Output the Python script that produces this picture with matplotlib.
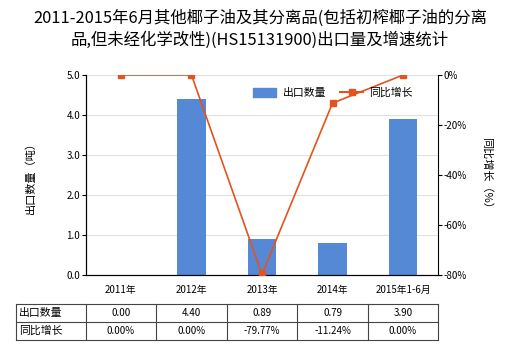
import matplotlib
matplotlib.use("Agg")
import matplotlib.pyplot as plt
from matplotlib.transforms import blended_transform_factory
from matplotlib.lines import Line2D

plt.rcParams['font.family'] = ['Noto Sans CJK SC', 'DejaVu Sans']

categories = ["2011年", "2012年", "2013年", "2014年", "2015年1-6月"]
export_qty = [0.00, 4.40, 0.89, 0.79, 3.90]
growth = [0.00, 0.00, -79.77, -11.24, 0.00]
qty_labels = ["0.00", "4.40", "0.89", "0.79", "3.90"]
growth_labels = ["0.00%", "0.00%", "-79.77%", "-11.24%", "0.00%"]

bar_color = "#5589d6"
line_color = "#e4531e"

fig = plt.figure(figsize=(5.2, 3.5), dpi=100)
ax = fig.add_axes([85.7/520, 1-275/350, (438.3-85.7)/520, 200/350])
x = list(range(len(categories)))
ax.bar(x, export_qty, width=0.4, color=bar_color, zorder=2, label="出口数量")
ax.set_xlim(-0.5, len(categories)-0.5)
ax.set_ylim(0, 5)
ax.set_yticks([0, 1, 2, 3, 4, 5])
ax.set_yticklabels([f"{v:.1f}" for v in [0, 1, 2, 3, 4, 5]], fontsize=7)
ax.grid(axis='y', color='#e0e0e0', linewidth=0.8, zorder=0)
ax.set_xticks(x)
ax.set_xticklabels(categories, fontsize=7)
ax.tick_params(axis='x', length=0, pad=7)
ax.tick_params(axis='y', length=3, width=0.8, pad=1)
ax.spines['top'].set_visible(False)
ax.spines['right'].set_visible(False)
ax.set_ylabel("出口数量（吨）", fontsize=8, labelpad=22)

ax2 = ax.twinx()
ax2.plot(x, growth, color=line_color, marker='s', markersize=4, linewidth=1.2, zorder=3)
ax2.set_ylim(-80, 0)
ax2.set_yticks([0, -20, -40, -60, -80])
ax2.set_yticklabels(["0%", "-20%", "-40%", "-60%", "-80%"], fontsize=7)
ax2.tick_params(axis='y', length=3, width=0.8, pad=1)
ax2.spines['top'].set_visible(False)
ax2.set_ylabel("同比增长（%）", fontsize=8, rotation=270, labelpad=18)

handles = [plt.Rectangle((0, 0), 1, 1, color=bar_color),
           Line2D([0], [0], color=line_color, marker='s', markersize=4, linewidth=1.5)]
ax2.legend(handles, ["出口数量", "同比增长"], loc='center right', bbox_to_anchor=(0.928, 0.91),
           ncol=2, frameon=False, fontsize=7.8, handlelength=2.1, handleheight=1.0,
           columnspacing=1.3, handletextpad=0.6, borderpad=0, borderaxespad=0)

fig.text(0.5, 1-9/350, "2011-2015年6月其他椰子油及其分离品(包括初榨椰子油的分离\n品,但未经化学改性)(HS15131900)出口量及增速统计",
         ha='center', va='top', fontsize=11.8, linespacing=1.35)

# table
tr = blended_transform_factory(ax.transData, fig.transFigure)
xl = -1.49
xr = len(categories) - 0.5
ys = [1-304/350, 1-322/350, 1-340/350]
for yv in ys:
    fig.add_artist(Line2D([xl, xr], [yv, yv], transform=tr, color='#444444', linewidth=0.8))
for xv in [xl] + [i - 0.5 for i in range(len(categories)+1)]:
    fig.add_artist(Line2D([xv, xv], [ys[0], ys[2]], transform=tr, color='#444444', linewidth=0.8))
rows = [("出口数量", qty_labels), ("同比增长", growth_labels)]
for r, (name, vals) in enumerate(rows):
    yc = (ys[r] + ys[r+1]) / 2
    fig.text(xl + 0.04, yc, name, transform=tr, ha='left', va='center', fontsize=7.8)
    for i, v in enumerate(vals):
        fig.text(i, yc, v, transform=tr, ha='center', va='center', fontsize=7)

fig.savefig("out.png", dpi=100)
